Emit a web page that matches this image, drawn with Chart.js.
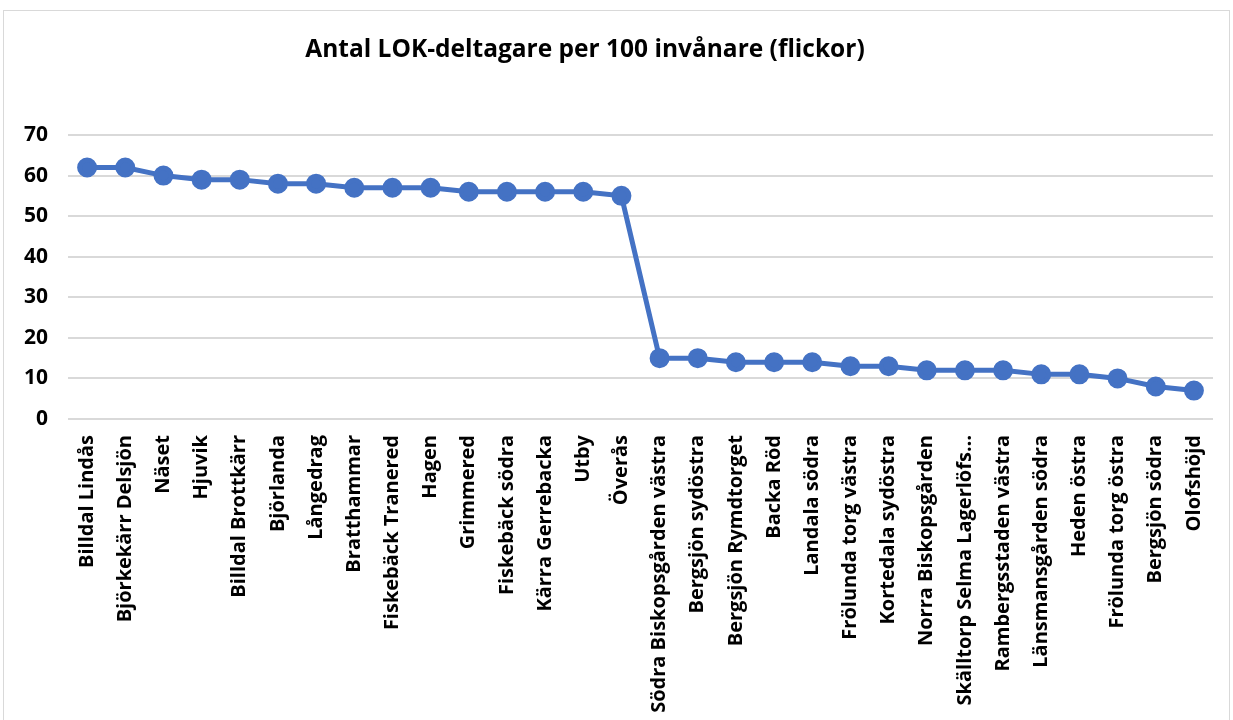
<!DOCTYPE html>
<html>
<head>
<meta charset="utf-8">
<script src="https://cdn.jsdelivr.net/npm/chart.js@4"></script>
<style>
  html, body { margin: 0; padding: 0; background: #fff; }
  #wrap { width: 1233px; height: 720px; position: relative; }
</style>
</head>
<body>
<div id="wrap"><canvas id="lokChart"></canvas></div>
<script>
// Antal LOK-deltagare per 100 invånare (flickor)
const chartTitle = 'Antal LOK-deltagare per 100 invånare (flickor)';

const areas = [
    'Billdal Lindås', 'Björkekärr Delsjön', 'Näset', 'Hjuvik', 'Billdal Brottkärr',
    'Björlanda', 'Långedrag', 'Bratthammar', 'Fiskebäck Tranered', 'Hagen',
    'Grimmered', 'Fiskebäck södra', 'Kärra Gerrebacka', 'Utby', 'Överås',
    'Södra Biskopsgården västra', 'Bergsjön sydöstra', 'Bergsjön Rymdtorget', 'Backa Röd', 'Landala södra',
    'Frölunda torg västra', 'Kortedala sydöstra', 'Norra Biskopsgården', 'Skälltorp Selma Lagerlöfs…', 'Rambergsstaden västra',
    'Länsmansgården södra', 'Heden östra', 'Frölunda torg östra', 'Bergsjön södra', 'Olofshöjd'
];

const participants = [
    62, 62, 60, 59, 59,
    58, 58, 57, 57, 57,
    56, 56, 56, 56, 55,
    15, 15, 14, 14, 14,
    13, 13, 12, 12, 12,
    11, 11, 10, 8, 7
];

const yMin = 0;
const yMax = 70;
const yStep = 10;

const blue = '#4472C4';
const gridGrey = '#d9d9d9';
const fontFamily = '"Open Sans", "Liberation Sans", sans-serif';

// frame + title drawn by hand so the title can sit where Excel put it
const framePlugin = {
    id: 'frame',
    beforeDraw(chart) {
        const c = chart.ctx;
        c.save();
        c.strokeStyle = gridGrey;
        c.lineWidth = 1;
        c.strokeRect(3.5, 10.5, 1226, 760);
        c.restore();
    },
    afterDraw(chart) {
        const c = chart.ctx;
        c.save();
        c.fillStyle = '#000';
        c.font = 'bold 24.5px ' + fontFamily;
        c.textAlign = 'center';
        c.textBaseline = 'middle';
        c.fillText(chartTitle, 585, 50);
        c.restore();
    }
};

new Chart(document.getElementById('lokChart'), {
    type: 'line',
    data: {
        labels: areas,
        datasets: [{
            data: participants,
            borderColor: blue,
            backgroundColor: blue,
            borderWidth: 5,
            pointRadius: 7.5,
            pointHoverRadius: 7.5,
            pointBackgroundColor: blue,
            pointBorderColor: blue,
            tension: 0
        }]
    },
    options: {
        responsive: true,
        maintainAspectRatio: false,
        animation: false,
        layout: {
            padding: { top: 135, left: 4, right: 20, bottom: 0 }
        },
        plugins: {
            legend: { display: false },
            title: { display: false },
            tooltip: { enabled: false }
        },
        scales: {
            x: {
                offset: true,
                grid: { display: false },
                border: { display: false },
                afterFit(scale) { scale.height = 301; },
                ticks: {
                    autoSkip: false,
                    minRotation: 90,
                    maxRotation: 90,
                    padding: 8,
                    color: '#000',
                    font: { family: fontFamily, size: 20, weight: 'bold' }
                }
            },
            y: {
                min: yMin,
                max: yMax,
                border: { display: false },
                grid: { color: gridGrey, lineWidth: 2, drawTicks: false },
                ticks: {
                    stepSize: yStep,
                    padding: 20,
                    color: '#000',
                    font: { family: fontFamily, size: 21, weight: 'bold' }
                }
            }
        }
    },
    plugins: [framePlugin]
});
</script>
</body>
</html>
